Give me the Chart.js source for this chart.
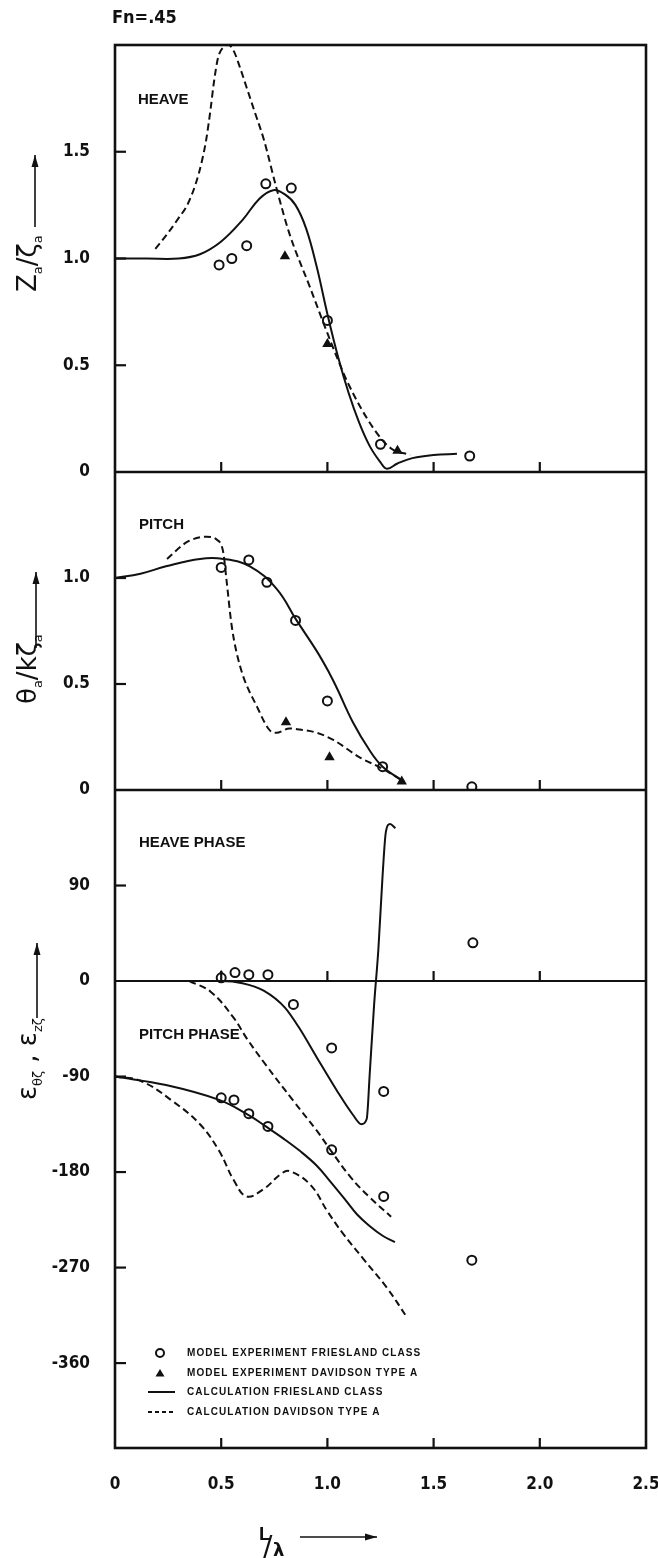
<!DOCTYPE html>
<html>
<head>
<meta charset="utf-8">
<script src="https://cdn.jsdelivr.net/npm/chart.js@4.4.0/dist/chart.umd.min.js"></script>
<style>
  body { margin: 0; background: #fff; }
  #wrap { width: 658px; height: 1558px; }
</style>
</head>
<body>
<div id="wrap"><canvas id="graficoMovimentos" width="658" height="1558"></canvas></div>
<script>
// Fn = .45  -  heave, pitch and phases against L/lambda

var xTicks = [0, 0.5, 1.0, 1.5, 2.0, 2.5];
var heaveTicks = [0, 0.5, 1.0, 1.5];
var pitchTicks = [0, 0.5, 1.0];
var phaseTicks = [90, 0, -90, -180, -270, -360];

var legendLabels = [
    'MODEL EXPERIMENT FRIESLAND CLASS',
    'MODEL EXPERIMENT DAVIDSON TYPE A',
    'CALCULATION FRIESLAND CLASS',
    'CALCULATION DAVIDSON TYPE A'
];

// heave
var heaveCalcFrieslandX = [0, 0.15, 0.3, 0.4, 0.5, 0.6, 0.68, 0.745, 0.8, 0.85, 0.9, 0.95, 1.0, 1.05, 1.1, 1.15, 1.2, 1.25, 1.28, 1.33, 1.4, 1.5, 1.61];
var heaveCalcFrieslandY = [1.0, 1.0, 1.0, 1.02, 1.08, 1.18, 1.28, 1.32, 1.3, 1.25, 1.14, 0.96, 0.74, 0.54, 0.37, 0.23, 0.12, 0.045, 0.015, 0.04, 0.065, 0.08, 0.085];
var heaveCalcDavidsonX = [0.19, 0.25, 0.3, 0.34, 0.38, 0.41, 0.43, 0.45, 0.465, 0.485, 0.51, 0.535, 0.56, 0.59, 0.62, 0.66, 0.7, 0.76, 0.82, 0.92, 1.0, 1.1, 1.22, 1.3, 1.39];
var heaveCalcDavidsonY = [1.045, 1.12, 1.19, 1.25, 1.35, 1.46, 1.56, 1.7, 1.82, 1.94, 1.99, 2.0, 1.97, 1.89, 1.8, 1.68, 1.56, 1.33, 1.12, 0.86, 0.65, 0.41, 0.2, 0.11, 0.08];
var heaveExpFrieslandX = [0.49, 0.55, 0.62, 0.71, 0.83, 1.0, 1.25, 1.67];
var heaveExpFrieslandY = [0.97, 1.0, 1.06, 1.35, 1.33, 0.71, 0.13, 0.075];
var heaveExpDavidsonX = [0.8, 1.0, 1.33];
var heaveExpDavidsonY = [1.01, 0.6, 0.1];

// pitch
var pitchCalcFrieslandX = [0, 0.12, 0.24, 0.4, 0.51, 0.635, 0.76, 0.855, 0.95, 1.01, 1.045, 1.12, 1.2, 1.26, 1.36];
var pitchCalcFrieslandY = [1.0, 1.02, 1.055, 1.09, 1.09, 1.055, 0.95, 0.8, 0.655, 0.55, 0.48, 0.32, 0.185, 0.11, 0.04];
var pitchCalcDavidsonX = [0.245, 0.34, 0.43, 0.48, 0.51, 0.525, 0.55, 0.59, 0.67, 0.73, 0.76, 0.82, 0.87, 0.95, 1.03, 1.15, 1.26, 1.36];
var pitchCalcDavidsonY = [1.09, 1.17, 1.195, 1.18, 1.12, 0.99, 0.77, 0.58, 0.39, 0.28, 0.27, 0.29, 0.285, 0.27, 0.235, 0.155, 0.1, 0.04];
var pitchExpFrieslandX = [0.5, 0.63, 0.715, 0.85, 1.0, 1.26, 1.68];
var pitchExpFrieslandY = [1.05, 1.085, 0.98, 0.8, 0.42, 0.11, 0.015];
var pitchExpDavidsonX = [0.805, 1.01, 1.35];
var pitchExpDavidsonY = [0.32, 0.155, 0.04];

// phases (degrees)
var heavePhaseCalcFrieslandX = [0, 0.3, 0.5, 0.6, 0.7, 0.8, 0.87, 0.95, 1.05, 1.12, 1.16, 1.185, 1.2, 1.22, 1.24, 1.26, 1.275, 1.295, 1.32];
var heavePhaseCalcFrieslandY = [0, 0, 0, -2, -9, -25, -45, -72, -105, -126, -135, -130, -85, -22, 30, 100, 140, 148, 144];
var heavePhaseCalcDavidsonX = [0.35, 0.45, 0.56, 0.62, 0.71, 0.84, 0.95, 1.01, 1.11, 1.2, 1.3];
var heavePhaseCalcDavidsonY = [0, -10, -35, -54, -79, -113, -141, -158, -185, -204, -222];
var pitchPhaseCalcFrieslandX = [0, 0.24, 0.49, 0.635, 0.71, 0.79, 0.87, 0.95, 1.01, 1.08, 1.14, 1.2, 1.26, 1.318];
var pitchPhaseCalcFrieslandY = [-90, -98, -112, -127, -137, -148, -160, -174, -188, -205, -220, -231, -240, -246];
var pitchPhaseCalcDavidsonX = [0, 0.12, 0.27, 0.4, 0.49, 0.56, 0.62, 0.7, 0.78, 0.82, 0.92, 1.0, 1.07, 1.17, 1.28, 1.375];
var pitchPhaseCalcDavidsonY = [-90, -94, -113, -135, -160, -188, -203, -196, -182, -179, -192, -217, -237, -262, -289, -317];
var heavePhaseExpFrieslandX = [0.5, 0.565, 0.63, 0.72, 0.84, 1.02, 1.265, 1.685];
var heavePhaseExpFrieslandY = [3, 8, 6, 6, -22, -63, -104, 36];
var pitchPhaseExpFrieslandX = [0.5, 0.56, 0.63, 0.72, 1.02, 1.265, 1.68];
var pitchPhaseExpFrieslandY = [-110, -112, -125, -137, -159, -203, -263];
var heavePhaseExpDavidsonX = [0.5];
var heavePhaseExpDavidsonY = [5];

var ink = '#111';
var narrow = "'Liberation Sans Narrow', 'DejaVu Sans Condensed', 'Liberation Sans', sans-serif";
var tickFont = { family: narrow, size: 17, weight: 'bold' };

function xy(xs, ys) {
    return xs.map(function (x, i) { return { x: x, y: ys[i] }; });
}

// smooth = true -> bezier with tension, else monotone (for the sharp turns)
function calcLine(label, xs, ys, axis, dashed, smooth) {
    return {
        label: label,
        data: xy(xs, ys),
        yAxisID: axis,
        borderColor: ink,
        borderWidth: 2,
        borderDash: dashed ? [7, 4] : [],
        pointRadius: 0,
        fill: false,
        cubicInterpolationMode: smooth ? 'default' : 'monotone',
        tension: smooth ? 0.4 : 0
    };
}

function expPoints(label, xs, ys, axis, tri) {
    return {
        label: label,
        data: xy(xs, ys),
        yAxisID: axis,
        showLine: false,
        pointStyle: tri ? 'triangle' : 'circle',
        pointRadius: tri ? 4 : 4.5,
        borderColor: ink,
        backgroundColor: tri ? ink : '#fff',
        borderWidth: 2
    };
}

function panelAxis(min, max, ticks, weight, stackWeight, fmt) {
    return {
        type: 'linear',
        position: 'left',
        stack: 'panels',
        stackWeight: stackWeight,
        weight: weight,
        min: min,
        max: max,
        grid: { display: false, drawTicks: false },
        border: { display: false },
        afterBuildTicks: function (s) { s.ticks = ticks.map(function (v) { return { value: v }; }); },
        afterFit: function (s) { s.width = 115; },
        ticks: { color: ink, font: tickFont, padding: 25, autoSkip: false, callback: fmt }
    };
}

function oneDecimal(v) { return v === 0 ? '0' : v.toFixed(1); }

// frame, inward ticks, texts and legend
var decor = {
    id: 'decor',
    beforeDraw: function (chart) {
        var ctx = chart.ctx;
        ctx.save();
        ctx.fillStyle = '#fff';
        ctx.fillRect(0, 0, chart.width, chart.height);
        ctx.restore();
    },
    afterDraw: function (chart) {
        var ctx = chart.ctx, a = chart.chartArea, sx = chart.scales.x;
        var yH = chart.scales.yHeave, yP = chart.scales.yPitch, yF = chart.scales.yPhase;
        var zero = yF.getPixelForValue(0);
        ctx.save();
        ctx.strokeStyle = ink;
        ctx.fillStyle = ink;
        ctx.lineWidth = 2.6;
        ctx.strokeRect(a.left, a.top, a.right - a.left, a.bottom - a.top);
        [yH.bottom, yP.bottom].forEach(function (y) {
            ctx.beginPath(); ctx.moveTo(a.left, y); ctx.lineTo(a.right, y); ctx.stroke();
        });
        ctx.lineWidth = 2;
        ctx.beginPath(); ctx.moveTo(a.left, zero); ctx.lineTo(a.right, zero); ctx.stroke();

        // inward ticks
        ctx.lineWidth = 2.2;
        [yH.bottom, yP.bottom, zero, a.bottom].forEach(function (b) {
            xTicks.slice(1, 5).forEach(function (v) {
                var px = sx.getPixelForValue(v);
                ctx.beginPath(); ctx.moveTo(px, b); ctx.lineTo(px, b - 10); ctx.stroke();
            });
        });
        [[yH, heaveTicks], [yP, pitchTicks], [yF, phaseTicks]].forEach(function (p) {
            p[1].forEach(function (v) {
                if (v === 0) return;
                var py = p[0].getPixelForValue(v);
                ctx.beginPath(); ctx.moveTo(a.left, py); ctx.lineTo(a.left + 11, py); ctx.stroke();
            });
        });

        // panel texts
        ctx.textBaseline = 'middle';
        ctx.textAlign = 'left';
        ctx.font = "bold 18px " + narrow;
        ctx.fillText('Fn=.45', 112, 18);
        ctx.font = "bold 15px 'Liberation Sans', sans-serif";
        ctx.fillText('HEAVE', 138, 100);
        ctx.fillText('PITCH', 139, 525);
        ctx.fillText('HEAVE PHASE', 139, 843);
        ctx.fillText('PITCH PHASE', 139, 1035);

        // rotated axis titles
        ctx.textBaseline = 'alphabetic';
        var big = "26px 'DejaVu Sans', sans-serif", small = "13px 'DejaVu Sans', sans-serif";
        rotated(ctx, [['Z', big, 0], ['a', small, 6], ['/', big, 0], ['ζ', big, 0], ['a', small, 6]], 36, 292);
        rotated(ctx, [['θ', big, 0], ['a', small, 6], ['/', big, 0], ['k', big, 0], ['ζ', big, 0], ['a', small, 6]], 36, 704);
        rotated(ctx, [['ε', big, 0], ['θζ', small, 6], [' , ', big, 0], ['ε', big, 0], ['zζ', small, 6]], 36, 1100);
        arrow(ctx, 35, 227, 35, 155);
        arrow(ctx, 36, 648, 36, 572);
        arrow(ctx, 37, 1018, 37, 943);

        // x title
        ctx.font = "bold 19px 'Liberation Sans', sans-serif";
        ctx.fillText('L', 259, 1540);
        ctx.font = "28px 'DejaVu Sans', sans-serif";
        ctx.fillText('/', 263, 1556);
        ctx.font = "bold 18px 'DejaVu Sans', sans-serif";
        ctx.fillText('λ', 273, 1556);
        arrow(ctx, 300, 1537, 377, 1537);

        // legend
        var lx = 160, tx = 187, rows = [1353, 1373, 1392, 1412];
        ctx.font = "bold 10px 'Liberation Sans', sans-serif";
        var w0 = ctx.measureText(legendLabels[0]).width;
        ctx.letterSpacing = ((233 - w0) / (legendLabels[0].length - 1)).toFixed(2) + 'px';
        ctx.textBaseline = 'middle';
        legendLabels.forEach(function (t, i) { ctx.fillText(t, tx, rows[i]); });
        ctx.letterSpacing = '0px';
        ctx.lineWidth = 2;
        ctx.beginPath(); ctx.arc(lx, rows[0], 4, 0, Math.PI * 2); ctx.stroke();
        ctx.beginPath(); ctx.moveTo(lx, rows[1] - 4); ctx.lineTo(lx + 4.5, rows[1] + 3.5); ctx.lineTo(lx - 4.5, rows[1] + 3.5); ctx.closePath(); ctx.fill();
        ctx.beginPath(); ctx.moveTo(148, rows[2]); ctx.lineTo(175, rows[2]); ctx.stroke();
        ctx.setLineDash([4, 3]);
        ctx.beginPath(); ctx.moveTo(148, rows[3]); ctx.lineTo(176, rows[3]); ctx.stroke();
        ctx.restore();
    }
};

function rotated(ctx, parts, x, yBottom) {
    ctx.save();
    ctx.translate(x, yBottom);
    ctx.rotate(-Math.PI / 2);
    var cx = 0;
    parts.forEach(function (p) {
        ctx.font = p[1];
        ctx.fillText(p[0], cx, p[2]);
        cx += ctx.measureText(p[0]).width;
    });
    ctx.restore();
}

function arrow(ctx, x1, y1, x2, y2) {
    var ang = Math.atan2(y2 - y1, x2 - x1);
    ctx.save();
    ctx.lineWidth = 1.6;
    ctx.setLineDash([]);
    ctx.beginPath(); ctx.moveTo(x1, y1); ctx.lineTo(x2, y2); ctx.stroke();
    ctx.translate(x2, y2);
    ctx.rotate(ang);
    ctx.beginPath(); ctx.moveTo(0, 0); ctx.lineTo(-12, -3.5); ctx.lineTo(-12, 3.5); ctx.closePath(); ctx.fill();
    ctx.restore();
}

var ctx = document.getElementById('graficoMovimentos');
var myChart = new Chart(ctx, {
    type: 'line',
    data: {
        datasets: [
            calcLine(legendLabels[2], heaveCalcFrieslandX, heaveCalcFrieslandY, 'yHeave', false, true),
            calcLine(legendLabels[3], heaveCalcDavidsonX, heaveCalcDavidsonY, 'yHeave', true, false),
            expPoints(legendLabels[0], heaveExpFrieslandX, heaveExpFrieslandY, 'yHeave', false),
            expPoints(legendLabels[1], heaveExpDavidsonX, heaveExpDavidsonY, 'yHeave', true),

            calcLine(legendLabels[2], pitchCalcFrieslandX, pitchCalcFrieslandY, 'yPitch', false, true),
            calcLine(legendLabels[3], pitchCalcDavidsonX, pitchCalcDavidsonY, 'yPitch', true, false),
            expPoints(legendLabels[0], pitchExpFrieslandX, pitchExpFrieslandY, 'yPitch', false),
            expPoints(legendLabels[1], pitchExpDavidsonX, pitchExpDavidsonY, 'yPitch', true),

            calcLine(legendLabels[2], heavePhaseCalcFrieslandX, heavePhaseCalcFrieslandY, 'yPhase', false, false),
            calcLine(legendLabels[3], heavePhaseCalcDavidsonX, heavePhaseCalcDavidsonY, 'yPhase', true, true),
            calcLine(legendLabels[2], pitchPhaseCalcFrieslandX, pitchPhaseCalcFrieslandY, 'yPhase', false, true),
            calcLine(legendLabels[3], pitchPhaseCalcDavidsonX, pitchPhaseCalcDavidsonY, 'yPhase', true, true),
            expPoints(legendLabels[0], heavePhaseExpFrieslandX, heavePhaseExpFrieslandY, 'yPhase', false),
            expPoints(legendLabels[0], pitchPhaseExpFrieslandX, pitchPhaseExpFrieslandY, 'yPhase', false),
            expPoints(legendLabels[1], heavePhaseExpDavidsonX, heavePhaseExpDavidsonY, 'yPhase', true)
        ]
    },
    options: {
        responsive: false,
        animation: false,
        devicePixelRatio: 1,
        layout: { padding: { top: 45, right: 12, left: 0, bottom: 0 } },
        plugins: {
            legend: { display: false },
            tooltip: { enabled: false },
            title: { display: false }
        },
        scales: {
            x: {
                type: 'linear',
                min: 0,
                max: 2.5,
                grid: { display: false, drawTicks: false },
                border: { display: false },
                afterBuildTicks: function (s) { s.ticks = xTicks.map(function (v) { return { value: v }; }); },
                afterFit: function (s) { s.height = 110; s.paddingLeft = 0; s.paddingRight = 0; },
                ticks: { color: ink, font: tickFont, padding: 26, maxRotation: 0, autoSkip: false, callback: oneDecimal }
            },
            yHeave: panelAxis(0, 2.0, heaveTicks, 3, 427, oneDecimal),
            yPitch: panelAxis(0, 1.5, pitchTicks, 2, 318, oneDecimal),
            yPhase: panelAxis(-440, 180, phaseTicks, 1, 658, function (v) { return String(v); })
        }
    },
    plugins: [decor]
});
</script>
</body>
</html>
